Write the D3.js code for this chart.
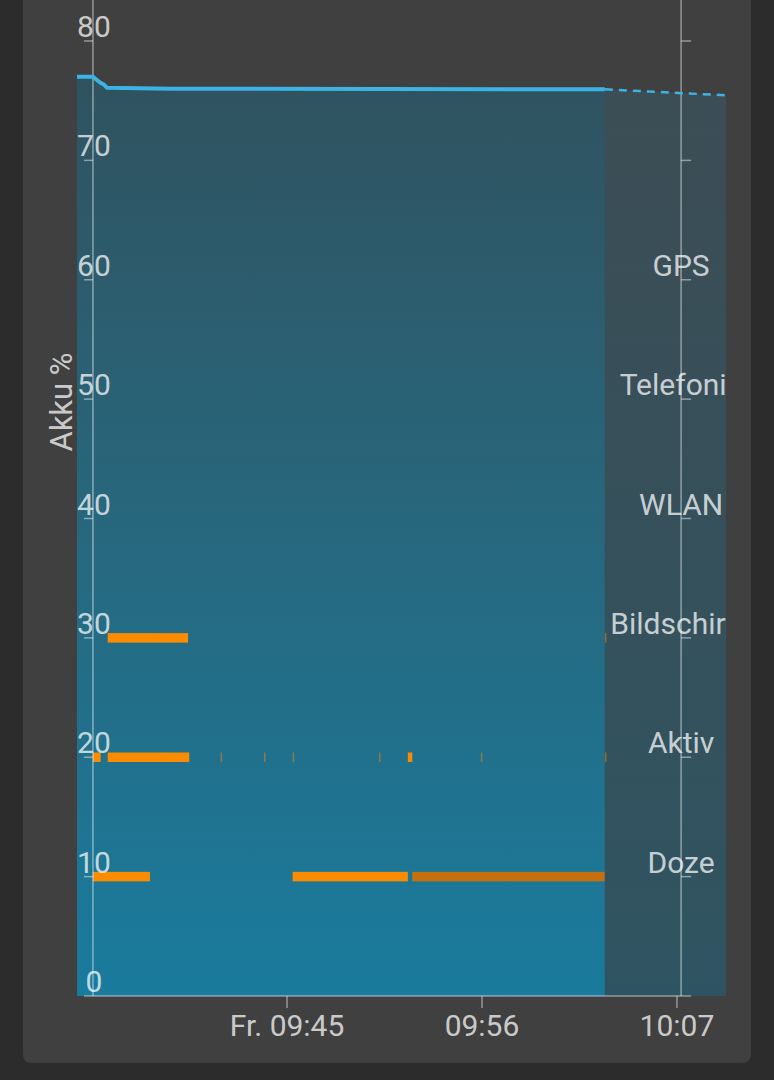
<!DOCTYPE html>
<html>
<head>
<meta charset="utf-8">
<script src="https://cdn.jsdelivr.net/npm/d3@7"></script>
<style>
    html, body { margin: 0; padding: 0; background: #2c2c2c; }
    svg { display: block; font-family: Roboto, "Noto Sans", sans-serif; }
</style>
</head>
<body>
<svg id="chart" width="774" height="1080"></svg>
<script>
// -----------------------------------------------------------------------------------
// DATA
const batteryTimes  = ["09:33:09", "09:34:03", "09:34:28", "09:34:40", "09:34:51", "09:38:30", "10:02:56"]
const batteryLevels = [77.0, 77.0, 76.5, 76.35, 76.08, 76.0, 75.95]

const projectionTimes  = ["10:02:56", "10:09:46"]
const projectionLevels = [75.95, 75.45]

const yTickValues = [0, 10, 20, 30, 40, 50, 60, 70, 80]
const rowNames  = ["GPS", "Telefonie", "WLAN", "Bildschirm", "Aktiv", "Doze"]
const rowLevels = [60, 50, 40, 30, 20, 10]

const xTickTimes  = ["09:45:00", "09:56:00", "10:07:00"]
const xTickLabels = ["Fr. 09:45", "09:56", "10:07"]

// events per row: start, end, kind
const screenStart = ["09:34:53", "10:02:56"]
const screenEnd   = ["09:39:25", "10:02:57"]

const activeStart = ["09:34:03", "09:34:53", "09:41:15", "09:43:42", "09:45:19", "09:50:11", "09:51:49", "09:55:56", "10:02:56"]
const activeEnd   = ["09:34:29", "09:39:29", "09:41:16", "09:43:43", "09:45:20", "09:50:12", "09:52:04", "09:55:57", "10:02:57"]

const dozeStart = ["09:34:03", "09:45:19", "09:52:04"]
const dozeEnd   = ["09:37:16", "09:51:49", "10:02:55"]
const dozeKind  = ["light", "light", "deep"]

const domainStart = "09:33:09"
const domainEnd   = "10:09:46"
const leftAxisTime  = "09:34:03"
const rightAxisTime = "10:07:14"

// -----------------------------------------------------------------------------------
// SETUP
const parse = d3.timeParse("%H:%M:%S")
const svg = d3.select("#chart")

const x = d3.scaleTime()
    .domain([parse(domainStart), parse(domainEnd)])
    .range([77, 726])

const y = d3.scaleLinear()
    .domain([0, 80])
    .range([996, 41])

const xLeft = x(parse(leftAxisTime))
const xRight = x(parse(rightAxisTime))

const kindColor = { light: "#fb8c00", deep: "#c66f0d" }

const battery = batteryTimes.map((t, i) => ({ t: parse(t), v: batteryLevels[i] }))
const projection = projectionTimes.map((t, i) => ({ t: parse(t), v: projectionLevels[i] }))

const rows = [
    { level: 30, ev: screenStart.map((s, i) => ({ s: parse(s), e: parse(screenEnd[i]), kind: "light" })) },
    { level: 20, ev: activeStart.map((s, i) => ({ s: parse(s), e: parse(activeEnd[i]), kind: "light" })) },
    { level: 10, ev: dozeStart.map((s, i) => ({ s: parse(s), e: parse(dozeEnd[i]), kind: dozeKind[i] })) }
]

// -----------------------------------------------------------------------------------
// DEFS
const defs = svg.append("defs")

const gMain = defs.append("linearGradient")
    .attr("id", "gradMain")
    .attr("gradientUnits", "userSpaceOnUse")
    .attr("x1", 0).attr("x2", 0)
    .attr("y1", y(77)).attr("y2", y(0))
gMain.append("stop").attr("offset", 0).attr("stop-color", "#30525f")
gMain.append("stop").attr("offset", 0.45).attr("stop-color", "#28667b")
gMain.append("stop").attr("offset", 1).attr("stop-color", "#1a7b9d")

const gProj = defs.append("linearGradient")
    .attr("id", "gradProj")
    .attr("gradientUnits", "userSpaceOnUse")
    .attr("x1", 0).attr("x2", 0)
    .attr("y1", y(76)).attr("y2", y(0))
gProj.append("stop").attr("offset", 0).attr("stop-color", "#3c4d55")
gProj.append("stop").attr("offset", 1).attr("stop-color", "#2f5461")

defs.append("clipPath").attr("id", "plotClip")
    .append("rect")
    .attr("x", x.range()[0]).attr("y", 0)
    .attr("width", x.range()[1] - x.range()[0] + 1)
    .attr("height", 1080)

// -----------------------------------------------------------------------------------
// CARD
svg.append("rect")
    .attr("x", 0).attr("y", 0)
    .attr("width", 774).attr("height", 1080)
    .attr("fill", "#2c2c2c")

svg.append("rect")
    .attr("x", 23).attr("y", -20)
    .attr("width", 728).attr("height", 1083)
    .attr("rx", 8)
    .attr("fill", "#404040")

// -----------------------------------------------------------------------------------
// AREAS
const area = d3.area()
    .x(d => x(d.t))
    .y0(y(0))
    .y1(d => y(d.v))

svg.append("path")
    .datum(battery)
    .attr("d", area)
    .attr("fill", "url(#gradMain)")

svg.append("path")
    .datum(projection)
    .attr("d", area)
    .attr("fill", "url(#gradProj)")

// -----------------------------------------------------------------------------------
// EVENT BARS
const barH = 9.5
rows.forEach(row => {
    svg.append("g")
        .selectAll("rect")
        .data(row.ev)
        .enter()
        .append("rect")
            .attr("x", d => x(d.s))
            .attr("y", y(row.level) - barH / 2)
            .attr("width", d => Math.max(x(d.e) - x(d.s), 1.6))
            .attr("height", barH)
            .attr("fill", d => kindColor[d.kind])
            .attr("opacity", d => (x(d.e) - x(d.s)) < 2 ? 0.45 : 1)
})

// -----------------------------------------------------------------------------------
// AXES
const axisColor = "#ffffff"
const axisOpacity = 0.45

const axes = svg.append("g")
    .attr("stroke", axisColor)
    .attr("stroke-opacity", axisOpacity)
    .attr("stroke-width", 1.5)

axes.append("line")
    .attr("x1", xLeft).attr("x2", xLeft)
    .attr("y1", 0).attr("y2", y(0))
axes.append("line")
    .attr("x1", xRight).attr("x2", xRight)
    .attr("y1", 0).attr("y2", y(0))
axes.append("line")
    .attr("x1", xLeft - 9).attr("x2", xRight + 10)
    .attr("y1", y(0)).attr("y2", y(0))

axes.selectAll(".ltick")
    .data(yTickValues.filter(v => v > 0))
    .enter().append("line")
        .attr("x1", xLeft - 9).attr("x2", xLeft)
        .attr("y1", d => y(d)).attr("y2", d => y(d))
axes.selectAll(".rtick")
    .data(yTickValues.filter(v => v > 0))
    .enter().append("line")
        .attr("x1", xRight).attr("x2", xRight + 10)
        .attr("y1", d => y(d)).attr("y2", d => y(d))
axes.selectAll(".xtick")
    .data(xTickTimes)
    .enter().append("line")
        .attr("x1", d => x(parse(d))).attr("x2", d => x(parse(d)))
        .attr("y1", y(0)).attr("y2", y(0) + 12)

// -----------------------------------------------------------------------------------
// LABELS
const labels = svg.append("g")
    .attr("fill", "#ffffff")
    .attr("fill-opacity", 0.74)
    .attr("font-size", "30px")
    .attr("text-anchor", "middle")

labels.selectAll(".ylab")
    .data(yTickValues)
    .enter().append("text")
        .attr("x", xLeft + 1)
        .attr("y", d => y(d) - 4)
        .text(d => d)

labels.append("g")
    .attr("clip-path", "url(#plotClip)")
    .selectAll("text")
    .data(rowNames)
    .enter().append("text")
        .attr("x", xRight)
        .attr("y", (d, i) => y(rowLevels[i]) - 4)
        .text(d => d)

labels.selectAll(".xlab")
    .data(xTickTimes)
    .enter().append("text")
        .attr("x", d => x(parse(d)))
        .attr("y", 1036)
        .text((d, i) => xTickLabels[i])

labels.append("text")
    .attr("transform", "translate(72,402) rotate(-90)")
    .attr("font-size", "31px")
    .text("Akku %")

// -----------------------------------------------------------------------------------
// BATTERY LINE
const line = d3.line()
    .x(d => x(d.t))
    .y(d => y(d.v))

svg.append("path")
    .datum(battery)
    .attr("d", line)
    .attr("fill", "none")
    .attr("stroke", "#3cb3e4")
    .attr("stroke-width", 4)
    .attr("stroke-linejoin", "round")

svg.append("path")
    .datum(projection)
    .attr("d", line)
    .attr("fill", "none")
    .attr("stroke", "#3cb3e4")
    .attr("stroke-width", 2.5)
    .attr("stroke-dasharray", "8,6")
</script>
</body>
</html>
